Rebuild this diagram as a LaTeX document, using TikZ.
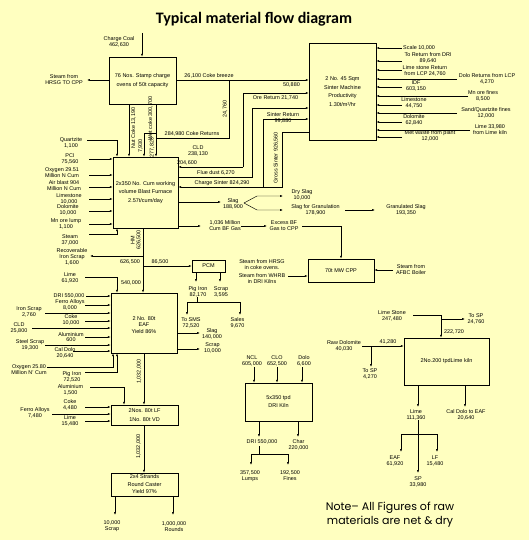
\documentclass[tikz,border=0pt]{standalone}
\usepackage{fontspec}
\setmainfont{Liberation Sans}
\newfontfamily\ttlfont{Carlito}
\newfontfamily\ntfont{Poppins}
\usetikzlibrary{arrows.meta}
\definecolor{bgyel}{RGB}{255,255,192}
\newcommand\lblsz{\fontsize{5.45}{5.9}\selectfont}
\newcommand\boxsz{\fontsize{5.5}{8.6}\selectfont}
\begin{document}
\begin{tikzpicture}[x=1pt,y=-1pt,
 box/.style={draw, line width=0.55pt, inner sep=0pt, align=center, font=\boxsz},
 lbl/.style={inner sep=0pt, align=center, font=\lblsz},
 ln/.style={line width=0.45pt},
 arr/.style={ln, -{Latex[length=2.8pt,width=1.9pt]}}]
\fill[bgyel] (0,0) rectangle (529,540);
\useasboundingbox (0,0) rectangle (529,540);

% title
\node[font=\ttlfont\bfseries\fontsize{16}{18}\selectfont, inner sep=0pt] (title) at (254,19) {Typical material flow diagram};

% boxes
\node[box, minimum width=67pt, minimum height=47pt] (co) at (142.5,80.5) {76 Nos. Stamp charge\\ovens of 50t capacity};
\node[box, minimum width=67pt, minimum height=97pt] (sin) at (342.5,91.5) {2 No. 45 Sqm\\Sinter Machine\\Productivity\\1.30t/m²/hr};
\node[box, minimum width=65pt, minimum height=71pt] (bf) at (145.5,192.5) {2x350 No. Cum working\\volume Blast Furnace\\2.57t/cum/day};
\node[box, minimum width=33pt, minimum height=12pt] (pcm) at (208.5,266) {PCM};
\node[box, minimum width=66pt, minimum height=23pt] (cpp) at (341,270.5) {70t MW CPP};
\node[box, minimum width=66pt, minimum height=60pt, font=\fontsize{5.5}{6.8}\selectfont] (eaf) at (144,323) {\\[1pt]2 No. 80t\\EAF\\Yield 86\%};
\node[box, minimum width=67pt, minimum height=20pt] (lf) at (144.5,415) {2Nos. 80t LF\\1No. 80t VD};
\node[box, minimum width=67pt, minimum height=23pt, font=\fontsize{5.5}{7.5}\selectfont] (cast) at (144.5,484.5) {2x4 Strands\\Round Caster\\Yield 97\%};
\node[box, minimum width=67pt, minimum height=38pt, font=\fontsize{5.5}{8}\selectfont] (kiln) at (278.5,402) {5x350 tpd\\DRI Kiln};
\node[box, minimum width=85pt, minimum height=47pt] (lk) at (446.5,361.5) {2No.200 tpdLime kiln};

% coke oven
\coordinate (ccoal) at (142,33);
\draw[arr] (ccoal) -- (ccoal |- co.north);
\node[lbl] (ccoalL) at (119,41.5) {Charge Coal\\462,630};
\coordinate (hrsg) at (87,80);
\draw[arr] (co.west |- hrsg) -- (hrsg);
\node[lbl] (hrsgL) at (64,80) {Steam from\\HRSG TO CPP};

% coke breeze and returns
\coordinate (cbk) at (229,80);
\draw[arr] (co.east |- cbk) -- (sin.west |- cbk);
\node[lbl] (cbL) at (209,76) {26,100 Coke breeze};
\node[lbl] (cbL2) at (291.5,84.5) {50,880};
\coordinate (crL) at (156,138);
\coordinate (crR) at (229,138);
\draw[ln] (crL) -- (crR) -- (cbk);
\node[lbl] (crLbl) at (192,133.5) {284,980 Coke Returns};
\node[lbl, rotate=90] (c24) at (225,109) {24,760};

% coke to BF
\coordinate (nc) at (129,130);
\coordinate (wc) at (156,130);
\coordinate (c79) at (144,133);
\draw[arr] (nc |- co.south) -- (nc |- bf.north);
\draw[arr] (wc |- co.south) -- (wc |- bf.north);
\draw[arr] (wc |- c79) -- (c79) -- (c79 |- bf.north);
\node[lbl, rotate=90] (ncL) at (133.5,128) {Nut Coke 13,190};
\node[lbl, rotate=90] (wcL) at (150.5,118.5) {Wet coke 300,700};
\node[lbl, rotate=90] (c79L) at (140.5,146) {7,930};
\node[lbl, rotate=90] (c27L) at (152,147.5) {277,820};

% quartzite
\coordinate (qz) at (87,140); \coordinate (qzc) at (117,140);
\draw[arr] (qz) -- (qzc) -- (qzc |- bf.north);
\node[lbl] (qzL) at (71,143) {Quartzite\\1,100};

% BF left inputs
\foreach \n/\y in {bpci/159, boxy/175, bair/187, blst/199, bdol/211, bmno/224}{
  \coordinate (\n) at (89,\y); \draw[arr] (\n) -- (bf.west |- \n);}
\node[lbl] (pciL) at (70,158.5) {PCI\\75,560};
\node[lbl] (oxyL) at (62,172.5) {Oxygen 29.51\\Million N Cum};
\node[lbl] (airL) at (64,185.5) {Air blast 904\\Million N Cum};
\node[lbl] (lstL) at (69,198.5) {Limestone\\10,000};
\node[lbl] (dolL) at (68,210) {Dolomite\\10,000};
\node[lbl] (mnoL) at (66,223.5) {Mn ore lump\\1,100};

% steam to BF
\coordinate (stm) at (89,234); \coordinate (stmc) at (117,234);
\draw[arr] (stm) -- (stmc) -- (stmc |- bf.south);
\node[lbl] (stmL) at (70,239.5) {Steam\\37,000};

% hot metal
\coordinate (hm) at (143,266);
\draw[arr] (hm |- bf.south) -- (hm |- eaf.north);
\node[lbl, rotate=90] (hmL) at (136,240) {HM\\626,500};
\coordinate (rsc) at (90,256);
\draw[arr] (hm |- rsc) -- (rsc);
\node[lbl] (rscL) at (72,257) {Recoverable\\Iron Scrap\\1,600};
\draw[arr] (hm) -- (pcm.west |- hm);
\node[lbl] (hm1) at (130,262) {626,500};
\node[lbl] (hm2) at (160,262) {86,500};
\node[lbl] (hm3) at (131,283) {540,000};

% PCM outputs
\coordinate (pig) at (196,282); \coordinate (scp) at (220,282);
\draw[arr] (pig |- pcm.south) -- (pig);
\draw[arr] (scp |- pcm.south) -- (scp);
\node[lbl] (pigL) at (198,291.5) {Pig Iron\\82,170};
\node[lbl] (scpL) at (221,291.5) {Scrap\\3,595};
\coordinate (pgt) at (197,297); \coordinate (pgs) at (197,302);
\coordinate (sms) at (187,315); \coordinate (sal) at (240,315);
\draw[ln] (pgt) -- (pgs);
\draw[ln] (pgs -| sms) -- (pgs -| sal);
\draw[arr] (pgs -| sms) -- (sms);
\draw[arr] (pgs -| sal) -- (sal);
\node[lbl] (smsL) at (191,323) {To SMS\\72,520};
\node[lbl] (salL) at (237.5,323) {Sales\\9,670};

% EAF outputs right
\coordinate (eslg) at (200,333); \coordinate (escr) at (200,349);
\draw[arr] (eaf.east |- eslg) -- (eslg);
\draw[arr] (eaf.east |- escr) -- (escr);
\node[lbl] (eslgL) at (212,333.5) {Slag\\140,000};
\node[lbl] (escrL) at (212.5,348) {Scrap\\10,000};

% EAF top lime
\coordinate (lm) at (85,277); \coordinate (lmc) at (117,277);
\draw[arr] (lm) -- (lmc) -- (lmc |- eaf.north);
\node[lbl] (lmL) at (70,278) {Lime\\61,920};

% EAF left inputs
\foreach \n/\x/\y in {edri/86/296, efa/85/305, eisc/45/313, ecok/85/321, ecld/32/328, ealu/85/337, essc/45/345, ecdl/73/351}{
  \coordinate (\n) at (\x,\y); \draw[arr] (\n) -- (eaf.west |- \n);}
\node[lbl, anchor=east] (edriL) at (84.5,295.5) {DRI 550,000};
\node[lbl] (efaL) at (70,305) {Ferro Alloys\\8,000};
\node[lbl] (eiscL) at (29,312) {Iron Scrap\\2,760};
\node[lbl] (ecokL) at (71,320) {Coke\\10,000};
\node[lbl] (ecldL) at (19,328) {CLD\\25,800};
\node[lbl] (ealuL) at (71,337) {Aluminium\\600};
\node[lbl] (esscL) at (30,344.5) {Steel Scrap\\19,300};
\node[lbl] (ecdlL) at (65,353) {Cal Dolo\\20,640};

% oxygen and pig iron to EAF
\coordinate (eox) at (47,367); \coordinate (eoxc) at (113,367);
\draw[arr] (eox) -- (eoxc) -- (eoxc |- eaf.south);
\node[lbl] (eoxL) at (29,370) {Oxygen 25.80\\Million N' Cum};
\coordinate (epi) at (85,372); \coordinate (epic) at (117,372);
\draw[arr] (epi) -- (epic) -- (epic |- eaf.south);
\node[lbl] (epiL) at (72,376.5) {Pig Iron\\72,520};

% aluminium to LF
\coordinate (lal) at (90,387); \coordinate (lalc) at (124,387);
\draw[arr] (lal) -- (lalc) -- (lalc |- lf.north);
\node[lbl] (lalL) at (70.5,389.5) {Aluminium\\1,500};

% EAF -> LF -> caster
\coordinate (ms) at (144,400);
\draw[arr] (ms |- eaf.south) -- (ms |- lf.north);
\draw[arr] (ms |- lf.south) -- (ms |- cast.north);
\node[lbl, rotate=90] (ms1) at (139,371.5) {1,032,000};
\node[lbl, rotate=90] (ms2) at (138.5,446.5) {1,032,000};

% LF inputs
\foreach \n/\x/\y in {lco/85/407, lfa/52/414, lli/85/421}{
  \coordinate (\n) at (\x,\y); \draw[arr] (\n) -- (lf.west |- \n);}
\node[lbl] (lcoL) at (70,404.5) {Coke\\4,480};
\node[lbl] (lfaL) at (35,413) {Ferro Alloys\\7,480};
\node[lbl] (lliL) at (70,421) {Lime\\15,480};

% caster outputs
\coordinate (cscr) at (115,515); \coordinate (crnd) at (173,515);
\draw[arr] (cscr |- cast.south) -- (cscr);
\draw[arr] (crnd |- cast.south) -- (crnd);
\node[lbl] (cscrL) at (112,526.5) {10,000\\Scrap};
\node[lbl] (crndL) at (174,526.5) {1,000,000\\Rounds};

% sinter left side flows
\coordinate (sor) at (243,93); \coordinate (scl) at (243,167);
\draw[arr] (scl) -- (sor) -- (sin.west |- sor);
\draw[arr] (scl) -- (bf.east |- scl);
\node[lbl] (sorL) at (275.5,98) {Ore Return 21,740};
\node[lbl] (sclL) at (198,151) {CLD\\238,130};
\node[lbl] (scl2) at (187,163) {204,600};
\coordinate (sfd) at (252,108); \coordinate (sfdb) at (252,177);
\draw[arr] (bf.east |- sfdb) -- (sfdb) -- (sfd) -- (sin.west |- sfd);
\node[lbl] (sfdL) at (216,173) {Flue dust 6,270};
\coordinate (ssr) at (263,119); \coordinate (ssrb) at (263,187);
\draw[arr] (ssrb) -- (ssr) -- (sin.west |- ssr);
\node[lbl] (ssrL) at (283,118) {Sinter Return\\99,880};
\coordinate (sgs) at (282,132); \coordinate (sgsb) at (282,187);
\draw[arr] (sin.west |- sgs) -- (sgs) -- (sgsb) -- (bf.east |- sgsb);
\node[lbl, rotate=90] (sgsL) at (276,158) {Gross Sinter 926,560};
\node[lbl] (schL) at (222,183) {Charge Sinter 824,290};

% sinter right inputs
\foreach \n/\x/\y in {r1/402/48, r2/402/61, r3/402/70, r4/457/79, r5/402/87, r6/468/96, r7/402/105, r8/457/113, r9/402/122, r10/470/130, r11/402/137}{
  \coordinate (\n) at (\x,\y); \draw[arr] (\n) -- (sin.east |- \n);}
\node[lbl, anchor=west] (r1L) at (403,48) {Scale 10,000};
\node[lbl] (r2L) at (428,57.5) {To Return from DRI\\89,640};
\node[lbl] (r3L) at (425,70.5) {Lime stone Return\\from LCP 24,760};
\node[lbl] (r4L) at (487,79) {Dolo Returns from LCP\\4,270};
\node[lbl] (r5L) at (416,86) {IDF\\603,150};
\node[lbl] (r6L) at (483,95.5) {Mn ore fines\\8,500};
\node[lbl] (r7L) at (414,103) {Limestone\\44,750};
\node[lbl] (r8L) at (486,112.5) {Sand/Quartzite fines\\12,000};
\node[lbl] (r9L) at (414,120) {Dolomite\\62,840};
\node[lbl] (r10L) at (490,129.5) {Lime 33,980\\from Lime kiln};
\node[lbl] (r11L) at (430,136) {Met waste from plant\\12,000};

% slag
\coordinate (slA) at (221,202);
\draw[arr] (bf.east |- slA) -- (slA);
\node[lbl] (slL) at (233,203.5) {Slag\\188,900};
\coordinate (sl0) at (244,203); \coordinate (slu) at (257,196); \coordinate (sld) at (257,210);
\coordinate (dry) at (283,196); \coordinate (grn) at (283,210);
\draw[arr] (sl0) -- (slu) -- (dry);
\draw[arr] (sl0) -- (sld) -- (grn);
\node[lbl] (dryL) at (302,195) {Dry Slag\\10,000};
\node[lbl] (grnL) at (315.5,210) {Slag for Granulation\\178,900};
\coordinate (gr1) at (345,210); \coordinate (gr2) at (375,210);
\draw[arr] (gr1) -- (gr2);
\node[lbl] (gr2L) at (406,210) {Granulated Slag\\193,350};

% BF gas
\coordinate (bg1) at (201,226);
\draw[arr] (bf.east |- bg1) -- (bg1);
\node[lbl] (bg1L) at (225,225.5) {1,036 Million\\Cum BF Gas};
\coordinate (bg2) at (241,226); \coordinate (bg3) at (267,226);
\draw[arr] (bg2) -- (bg3);
\node[lbl] (bg3L) at (284,225.5) {Excess BF\\Gas to CPP};
\coordinate (bg4) at (302,226); \coordinate (bg5) at (341,226);
\draw[arr] (bg4) -- (bg5) -- (bg5 |- cpp.north);

% CPP steam
\node[lbl] (hrsL) at (262,265) {Steam from HRSG\\in coke ovens.};
\node[lbl] (whrL) at (262,278.5) {Steam from WHRB\\in DRI Kilns};
\coordinate (whrb) at (288,276);
\draw[arr] (whrb) -- (cpp.west |- whrb);
\coordinate (afbc) at (393,270);
\draw[arr] (afbc) -- (cpp.east |- afbc);
\node[lbl] (afbcL) at (411,270) {Steam from\\AFBC Boiler};

% DRI kiln
\foreach \n/\x in {kncl/254, kclo/277, kdol/302}{
  \coordinate (\n) at (\x,367); \draw[arr] (\n) -- (\n |- kiln.north);}
\node[lbl] (knclL) at (252,360.5) {NCL\\605,000};
\node[lbl] (kcloL) at (277,360.5) {CLO\\652,500};
\node[lbl] (kdolL) at (304,360.5) {Dolo\\6,600};
\coordinate (kdri) at (259,437); \coordinate (kchr) at (298,437);
\draw[arr] (kdri |- kiln.south) -- (kdri);
\draw[arr] (kchr |- kiln.south) -- (kchr);
\node[lbl] (kdriL) at (262,442) {DRI 550,000};
\node[lbl] (kchrL) at (298.5,444.5) {Char\\220,000};
\coordinate (kdt) at (259,446); \coordinate (kds) at (259,454);
\coordinate (klu) at (251,465); \coordinate (kfi) at (288,465);
\draw[ln] (kdt) -- (kds);
\draw[ln] (kds -| klu) -- (kds -| kfi);
\draw[arr] (kds -| klu) -- (klu);
\draw[arr] (kds -| kfi) -- (kfi);
\node[lbl] (kluL) at (250,476) {357,500\\Lumps};
\node[lbl] (kfiL) at (290,476) {192,500\\Fines};

% lime kiln
\coordinate (rdl) at (362,346);
\draw[arr] (rdl) -- (lk.west |- rdl);
\node[lbl] (rdlL) at (344,345.5) {Raw Dolomite\\40,030};
\node[lbl] (rdl2) at (388,341.5) {41,280};
\coordinate (rdb) at (371,346); \coordinate (rsp) at (371,367);
\draw[arr] (rdb) -- (rsp);
\node[lbl] (rspL) at (370,374) {To SP\\4,270};
\coordinate (lsa) at (413,315); \coordinate (lsb) at (441,315);
\draw[arr] (lsa) -- (lsb) -- (lsb |- lk.north);
\node[lbl] (lsaL) at (392,315.5) {Lime Stone\\247,480};
\node[lbl] (lsbL) at (454,332) {222,720};
\coordinate (lsc) at (441,319); \coordinate (lsd) at (465,319);
\draw[arr] (lsc) -- (lsd);
\node[lbl] (lsdL) at (476,319) {To SP\\24,760};
\coordinate (lko1) at (418,407); \coordinate (lko2) at (465,407);
\draw[arr] (lko1 |- lk.south) -- (lko1);
\draw[arr] (lko2 |- lk.south) -- (lko2);
\node[lbl] (lko1L) at (416,414.5) {Lime\\111,360};
\node[lbl] (lko2L) at (466,414.5) {Cal Dolo to EAF\\20,640};
\coordinate (lkt) at (418,420); \coordinate (lks) at (418,434);
\coordinate (lke) at (401,452); \coordinate (lkl) at (437,452); \coordinate (lkp) at (418,473);
\draw[ln] (lks -| lke) -- (lks -| lkl);
\draw[arr] (lkt) -- (lkp);
\draw[arr] (lks -| lke) -- (lke);
\draw[arr] (lks -| lkl) -- (lkl);
\node[lbl] (lkeL) at (395,461) {EAF\\61,920};
\node[lbl] (lklL) at (435,461) {LF\\15,480};
\node[lbl] (lkpL) at (418,481.5) {SP\\33,980};

% note
\node[font=\ntfont\fontsize{11}{14}\selectfont, align=center, inner sep=0pt] (note) at (390,515) {Note– All Figures of raw\\materials are net \& dry};
\end{tikzpicture}
\end{document}
